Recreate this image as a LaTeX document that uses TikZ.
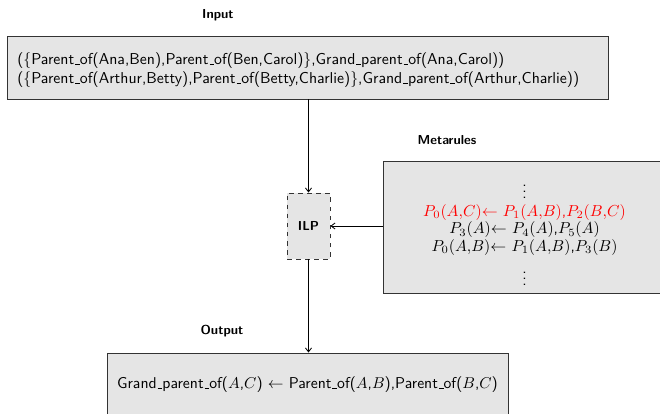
\documentclass[tikz,border=0pt]{standalone}
\usepackage{fix-cm}
\usetikzlibrary{arrows.meta}
\renewcommand{\familydefault}{\sfdefault}
% one drawing unit in pt
\newcommand{\unitpt}{0.66}
% short low bar, as in the classic OT1 \_
\newcommand{\lowbar}{\leavevmode\kern.06em\vbox{\hrule width.3em}}
\begin{document}
\begin{tikzpicture}[x=\unitpt pt,y=-\unitpt pt,
  box/.style={draw=black!80, fill=gray!20, line width=0.6pt, inner sep=0pt},
  boxsize/.style 2 args={minimum width=#1*\unitpt pt, minimum height=#2*\unitpt pt},
  lbl/.style={font=\fontsize{8.6}{10}\selectfont\bfseries},
  txt/.style={font=\fontsize{10.4}{12.5}\selectfont},
  rule/.style={font=\fontsize{10.5}{11.55}\selectfont},
  flow/.style={-{Straight Barb[length=2.6pt,width=4pt]}, line width=0.55pt}]
\useasboundingbox (0,0) rectangle (660,414);
% input examples
\node[lbl] (inlbl) at (218,15) {Input};
\node[box, boxsize={601}{63}] (input) at (307.5,67.5) {};
\node[txt, align=left, anchor=west, inner sep=0pt] (intext) at (17,70)
  {(\{Parent\lowbar of(Ana,Ben),Parent\lowbar of(Ben,Carol)\},Grand\lowbar parent\lowbar of(Ana,Carol))\\
   (\{Parent\lowbar of(Arthur,Betty),Parent\lowbar of(Betty,Charlie)\},Grand\lowbar parent\lowbar of(Arthur,Charlie))};
% learner
\node[box, dashed, boxsize={43}{66}] (ilp) at (308.5,226) {};
\node[lbl] (ilptext) at (ilp) {ILP};
% metarules
\node[lbl] (metalbl) at (447,140) {Metarules};
\node[box, boxsize={286}{132}] (meta) at (526,227) {};
\node[rule, inner sep=0pt] (dotsup) at (524.5,187) {$\vdots$};
\node[rule, align=center, inner sep=0pt] (metatext) at (524.5,230)
  {\textcolor{red}{$P_0(A{,}C)$$\leftarrow$ $P_1(A{,}B)${,}$P_2(B{,}C)$}\\
   $P_3(A)$$\leftarrow$ $P_4(A)${,}$P_5(A)$\\
   $P_0(A{,}B)$$\leftarrow$ $P_1(A{,}B)${,}$P_3(B)$};
\node[rule, inner sep=0pt] (dotsdown) at (524.5,274) {$\vdots$};
% output
\node[lbl] (outlbl) at (222,331) {Output};
\node[box, boxsize={401}{63}] (output) at (308,384.5) {};
\node[txt, font=\fontsize{10.35}{12}\selectfont] (outtext) at (307.5,384.5)
  {Grand\lowbar parent\lowbar of($A${,}$C$) $\leftarrow$ Parent\lowbar of($A${,}$B$),Parent\lowbar of($B${,}$C$)};
% connectors
\draw[flow] (input.south -| ilp.north) -- (ilp.north);
\draw[flow] (meta.west |- ilp.east) -- (ilp.east);
\draw[flow] (ilp.south) -- (ilp.south |- output.north);
\end{tikzpicture}
\end{document}
